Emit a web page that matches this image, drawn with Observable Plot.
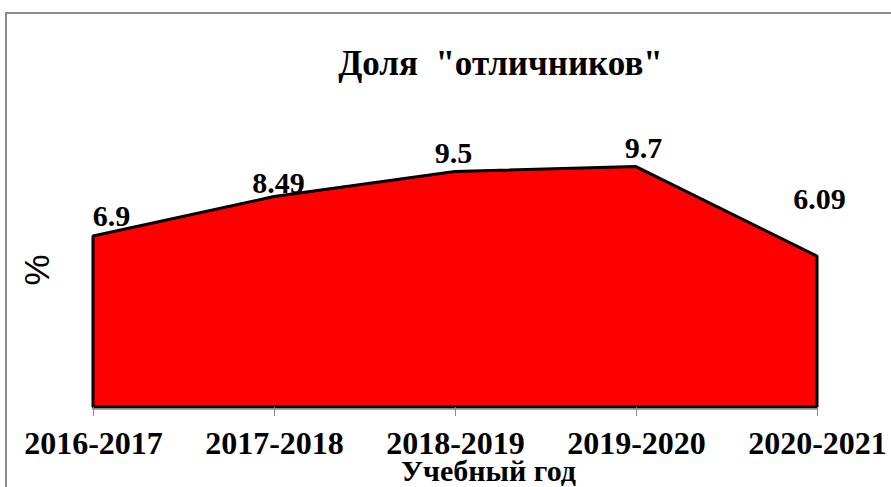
<!DOCTYPE html>
<html>
<head>
<meta charset="utf-8">
<script src="https://cdn.jsdelivr.net/npm/d3@7"></script>
<script src="https://cdn.jsdelivr.net/npm/@observablehq/plot@0.6"></script>
<style>
  html, body { margin: 0; padding: 0; background: #fff; width: 891px; height: 487px; overflow: hidden; }
  #frame { position: absolute; left: 5px; top: 12px; width: 900px; height: 500px; border: 2px solid #8c8c8c; box-sizing: border-box; }
  #chart { position: absolute; left: 0; top: 0; }
</style>
</head>
<body>
<div id="frame"></div>
<div id="chart"></div>
<script>
const years = ["2016-2017", "2017-2018", "2018-2019", "2019-2020", "2020-2021"];
const shares = [6.9, 8.49, 9.5, 9.7, 6.09];
const labels = ["6.9", "8.49", "9.5", "9.7", "6.09"];
const titleText = 'Доля  "отличников"';
const xTitle = "Учебный год";
const yTitle = "%";

const data = years.map((y, i) => ({year: y, value: shares[i], label: labels[i]}));
// label placement offsets (px) relative to each point
const labelOffsets = [[18, -10], [4, -4], [-2, -9], [7, -9], [2, -48]];

const serif = '"Liberation Serif", "Times New Roman", serif';

const plot = Plot.plot({
  width: 891,
  height: 487,
  marginLeft: 92,
  marginRight: 73,
  marginTop: 60,
  marginBottom: 80,
  style: {background: "transparent"},
  x: {type: "point", domain: years, padding: 0},
  y: {domain: [0, 14], axis: null},
  marks: [
    Plot.areaY(data, {x: "year", y: "value", fill: "#ff0000", stroke: "#000", strokeWidth: 3, strokeLinejoin: "miter"}),
    Plot.ruleY([0], {stroke: "#8c8c8c", strokeWidth: 1.5, dy: 1.5}),
    Plot.axisX({tickSize: 9, tickPadding: 15, fontSize: 32, fontWeight: "bold", fontFamily: serif, stroke: "#8c8c8c", label: null, fill: "#000"}),
    ...data.map((d, i) => Plot.text([d], {
      x: "year", y: "value", text: "label",
      dx: labelOffsets[i][0], dy: labelOffsets[i][1],
      lineAnchor: "bottom", textAnchor: "middle",
      fontSize: 30, fontWeight: "bold", fontFamily: serif, fill: "#000"
    })),
    Plot.text([titleText], {frameAnchor: "top", lineAnchor: "bottom", dx: 45, dy: 14, fontSize: 35, fontWeight: "bold", fontFamily: serif, fill: "#000"}),
    Plot.text([xTitle], {frameAnchor: "bottom", lineAnchor: "bottom", dx: 33, dy: 73, fontSize: 30, fontWeight: "bold", fontFamily: serif, fill: "#000"}),
    Plot.text([yTitle], {frameAnchor: "left", rotate: -90, lineAnchor: "middle", dx: -55, dy: 51.5, fontSize: 35, fontFamily: '"Liberation Sans", Arial, sans-serif', fill: "#000"})
  ]
});
document.getElementById("chart").appendChild(plot);
</script>
</body>
</html>
